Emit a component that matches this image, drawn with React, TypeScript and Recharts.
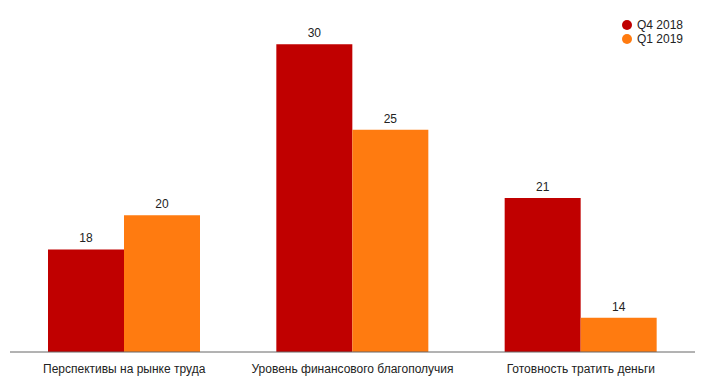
import { BarChart, Bar, XAxis, YAxis, LabelList } from 'recharts';

const categories = ['Перспективы на рынке труда', 'Уровень финансового благополучия', 'Готовность тратить деньги'];
const q4_2018 = [18, 30, 21];
const q1_2019 = [20, 25, 14];

const RED = '#c00000';
const ORANGE = '#ff7b10';
const FONT = 'Arial, "Liberation Sans", sans-serif';

const data = categories.map((name, i) => ({ name, q4: q4_2018[i], q1: q1_2019[i] }));

const legendItems = [
  { label: 'Q4 2018', color: RED },
  { label: 'Q1 2019', color: ORANGE },
];

function LegendBox() {
  return (
    <div style={{ position: 'absolute', top: 18, left: 622, fontFamily: FONT, fontSize: 12, color: '#222' }}>
      {legendItems.map((it) => (
        <div key={it.label} style={{ display: 'flex', alignItems: 'center', height: 14 }}>
          <span style={{ width: 10, height: 10, borderRadius: '50%', background: it.color, display: 'inline-block', marginRight: 5 }} />
          <span>{it.label}</span>
        </div>
      ))}
    </div>
  );
}

export default function App() {
  return (
    <div style={{ width: 705, height: 384, position: 'relative' }}>
      <style>{'body{margin:0}'}</style>
      <BarChart
        width={705}
        height={384}
        data={data}
        margin={{ top: 10, right: 10, left: 10, bottom: 0 }}
        barCategoryGap={38}
        barGap={0}
      >
        <XAxis
          dataKey="name"
          height={32}
          tickLine={false}
          axisLine={{ stroke: '#666' }}
          tick={{ fill: '#222', fontSize: 12, fontFamily: FONT }}
          tickMargin={6}
          interval={0}
        />
        <YAxis hide domain={[12, 32]} />
        <Bar dataKey="q4" fill={RED} isAnimationActive={false}>
          <LabelList dataKey="q4" position="top" offset={7} fill="#222" fontSize={12} fontFamily={FONT} />
        </Bar>
        <Bar dataKey="q1" fill={ORANGE} isAnimationActive={false}>
          <LabelList dataKey="q1" position="top" offset={7} fill="#222" fontSize={12} fontFamily={FONT} />
        </Bar>
      </BarChart>
      <LegendBox />
    </div>
  );
}
